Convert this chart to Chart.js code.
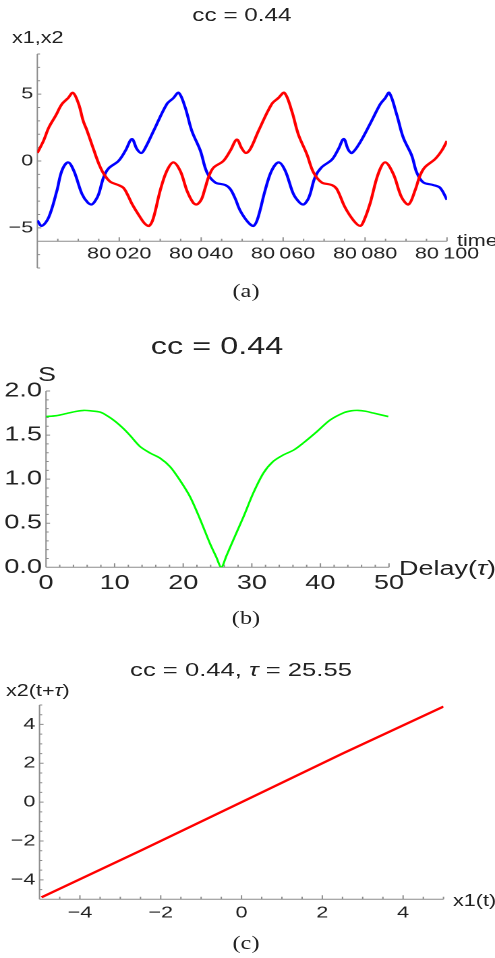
<!DOCTYPE html>
<html>
<head>
<meta charset="utf-8">
<script src="https://cdn.jsdelivr.net/npm/chart.js@4.4.1/dist/chart.umd.min.js"></script>
<style>
  html, body { margin: 0; padding: 0; background: #fff; overflow: hidden; }
  #fig { position: relative; width: 367px; height: 958px; transform-origin: 0 0;
         font-family: "Liberation Sans", Arial, sans-serif; color: #222; }
  #fig canvas { position: absolute; left: 0; }
  .lbl { position: absolute; white-space: nowrap; line-height: 1; transform: translateY(-50%); }
  .mid { transform: translate(-50%, -50%); }
  .cap { font-family: "Liberation Serif", "DejaVu Serif", serif; font-size: 18px; }
</style>
</head>
<body>
<div id="fig">
  <div class="lbl mid" style="left:179.4px;top:15px;font-size:18px">cc = 0.44</div>
  <div class="lbl" style="left:8.9px;top:38px;font-size:16px">x1,x2</div>
  <div class="lbl" style="left:338.8px;top:240.5px;font-size:16px">time</div>
  <canvas id="chartA" width="367" height="300" style="top:0;width:367px;height:300px"></canvas>
  <div class="lbl mid cap" style="left:182.4px;top:291px">(a)</div>

  <div class="lbl mid" style="left:160.9px;top:346px;font-size:24px">cc = 0.44</div>
  <div class="lbl" style="left:28.2px;top:374px;font-size:20px">S</div>
  <div class="lbl" style="left:295.8px;top:568px;font-size:20px">Delay(<i>τ</i>)</div>
  <canvas id="chartB" width="367" height="300" style="top:320px;width:367px;height:300px"></canvas>
  <div class="lbl mid cap" style="left:182.4px;top:618px">(b)</div>

  <div class="lbl mid" style="left:178.7px;top:669px;font-size:19px">cc = 0.44, <i>τ</i> = 25.55</div>
  <div class="lbl" style="left:4.4px;top:691px;font-size:16px">x2(t+<i>τ</i>)</div>
  <div class="lbl" style="left:335.9px;top:901px;font-size:16px">x1(t)</div>
  <canvas id="chartC" width="367" height="328" style="top:630px;width:367px;height:328px"></canvas>
  <div class="lbl mid cap" style="left:182.4px;top:943px">(c)</div>
</div>

<script>
// (a) time series, cc = 0.44
var redTime = [80000, 80001.5, 80002.8, 80004.5, 80006, 80007.5, 80008.7, 80010.1, 80011.2, 80012.1,
  80013.7, 80015, 80016.2, 80017.8, 80019.8, 80021, 80022, 80023.1, 80025.1, 80026.3,
  80027.3, 80028.3, 80030, 80031.6, 80033.2, 80034.9, 80036.5, 80038, 80038.9, 80040,
  80040.8, 80041.8, 80043, 80045.4, 80047.1, 80048.7, 80049.9, 80050.9, 80052, 80054,
  80057.2, 80058.8, 80060.3, 80062.1, 80063.7, 80065.8, 80067.4, 80069.4, 80071.9, 80073.1,
  80075.1, 80077.2, 80078.8, 80079.8, 80081.2, 80083.2, 80084.9, 80086.9, 80088.9, 80090.6,
  80092.2, 80093.4, 80094.6, 80097.1, 80098.7, 80100];
var redX1 = [0.6, 1.5, 2.5, 3.4, 4.25, 4.7, 5.1, 4.25, 3.0, 2.3,
  0.9, -0.2, -0.95, -1.55, -1.8, -2.0, -2.5, -3.2, -4.2, -4.7,
  -4.85, -4.3, -2.2, -0.75, -0.1, -0.75, -2.2, -3.1, -3.25, -2.9,
  -2.2, -1.2, -0.5, 0.0, 0.77, 1.6, 0.95, 0.6, 0.9, 2.26,
  4.25, 4.7, 5.1, 3.75, 2.0, 0.5, -0.85, -1.6, -1.8, -2.1,
  -3.46, -4.45, -4.85, -4.4, -3.2, -0.97, -0.1, -0.97, -2.7, -3.25,
  -2.2, -1.1, -0.47, 0.15, 0.77, 1.5];

var blueTime = [80000, 80001.1, 80002.8, 80004.8, 80006, 80007.5, 80008.9, 80010.9, 80012.3, 80013.3,
  80014.3, 80015, 80016.2, 80017.4, 80019.8, 80021.5, 80023.1, 80024.3, 80025.4, 80026.3,
  80028.4, 80031.6, 80033.2, 80034.5, 80036.1, 80037.7, 80039.8, 80041.4, 80043.4, 80045.9,
  80047.1, 80048.3, 80049.5, 80051.5, 80052.8, 80053.8, 80055.6, 80057.2, 80058.9, 80060.5,
  80062.5, 80064, 80065, 80066, 80066.6, 80067.8, 80069.4, 80071.9, 80073.5, 80074.8,
  80075.9, 80076.8, 80078.8, 80081.6, 80083.7, 80084.9, 80085.9, 80087.7, 80089.3, 80091.4,
  80092.6, 80094.2, 80096.7, 80098.3, 80100];
var blueX2 = [-4.45, -4.85, -4.2, -2.2, -0.72, -0.1, -0.72, -2.46, -3.1, -3.25,
  -2.9, -2.46, -1.2, -0.55, 0.0, 0.77, 1.64, 0.9, 0.6, 0.95,
  2.26, 4.25, 4.7, 5.1, 4.0, 2.26, 0.77, -0.85, -1.6, -1.8,
  -2.1, -2.8, -3.7, -4.6, -4.85, -4.3, -2.2, -0.72, -0.1, -0.72,
  -2.46, -3.1, -3.25, -2.9, -2.46, -1.2, -0.47, 0.1, 0.9, 1.65,
  0.85, 0.6, 1.4, 3.0, 4.25, 4.7, 5.1, 3.5, 1.77, 0.4,
  -0.85, -1.6, -1.8, -2.0, -2.9];

var timeTicks = [80020, 80040, 80060, 80080, 80100];
var xTicksA = [-5, 0, 5];

// (b) similarity function S vs delay
var delay = [0, 1.5, 3, 4.5, 5.5, 6.5, 7.9, 9, 10.1, 11.2, 12.2, 13.7, 15.2, 16.6, 18.1, 19.5,
  21, 22.4, 23.9, 24.8, 25.55, 26.3, 27.3, 28.8, 30.2, 31.7, 33.1, 34.6, 36.1, 37.5,
  39.5, 41.4, 43.3, 44.5, 45.5, 46.6, 47.7, 49.9];
var simS = [1.71, 1.72, 1.745, 1.77, 1.78, 1.775, 1.76, 1.715, 1.655, 1.58, 1.5, 1.37, 1.295, 1.24, 1.14, 0.99,
  0.8, 0.557, 0.27, 0.12, 0.0, 0.13, 0.31, 0.575, 0.84, 1.07, 1.2, 1.275, 1.33, 1.41,
  1.54, 1.67, 1.75, 1.775, 1.78, 1.77, 1.75, 1.71];
var delayTicks = [0, 10, 20, 30, 40, 50];
var sTicks = [0, 0.5, 1, 1.5, 2];

// (c) x2(t+tau) against x1(t), tau = 25.55
var lagX1 = [-4.95, -2.5, 0, 2.5, 5.0];
var lagX2 = [-4.9, -2.5, 0, 2.5, 4.92];
var lagTicks = [-4, -2, 0, 2, 4];

var S = 495 / 367;   // the figure is stretched sideways
document.getElementById('fig').style.transform = 'scaleX(' + S + ')';
function ix(pageX) { return pageX / S; }

function pts(xs, ys) {
  return xs.map(function(x, i) { return {x: x, y: ys[i]}; });
}
function minusSign(v) {
  return v < 0 ? '\u2212' + Math.abs(v) : String(v);
}

// Mathematica-like axes: grey lines with inward major and minor ticks
var mmaAxes = {
  id: 'mmaAxes',
  beforeDatasetsDraw: function(chart, args, o) {
    var ctx = chart.ctx, xs = chart.scales.x, ys = chart.scales.y;
    var y0 = ys.getPixelForValue(o.xAt);
    var x0 = xs.getPixelForValue(o.yAt);
    ctx.save();
    ctx.strokeStyle = '#8c8c8c';
    ctx.lineWidth = 1;
    ctx.beginPath();
    ctx.moveTo(xs.left, y0); ctx.lineTo(xs.right, y0);
    ctx.moveTo(x0, ys.top); ctx.lineTo(x0, ys.bottom);
    var n, i, v, p, len;
    n = Math.round((xs.max - xs.min) / o.x[1]);
    for (i = 0; i <= n; i++) {
      v = xs.min + i * o.x[1];
      len = Math.abs(v / o.x[0] - Math.round(v / o.x[0])) < 1e-6 ? 4 : 2.5;
      p = xs.getPixelForValue(v);
      ctx.moveTo(p, y0); ctx.lineTo(p, y0 - len);
    }
    n = Math.round((ys.max - ys.min) / o.y[1]);
    for (i = 0; i <= n; i++) {
      v = ys.min + i * o.y[1];
      len = Math.abs(v / o.y[0] - Math.round(v / o.y[0])) < 1e-6 ? 3 : 2;
      p = ys.getPixelForValue(v);
      ctx.moveTo(x0, p); ctx.lineTo(x0 + len, p);
    }
    ctx.stroke();
    ctx.restore();
  }
};

function makePanel(id, cfg) {
  return new Chart(document.getElementById(id), {
    type: 'scatter',
    data: {datasets: cfg.datasets},
    options: {
      responsive: false,
      animation: false,
      devicePixelRatio: 2,
      layout: {autoPadding: false, padding: {left: 0, top: cfg.top, right: cfg.right, bottom: cfg.bottom}},
      elements: {point: {radius: 0}},
      plugins: {
        legend: {display: false},
        tooltip: {enabled: false},
        mmaAxes: {xAt: cfg.xAxisAt, yAt: cfg.xMin, x: cfg.xSteps, y: cfg.ySteps}
      },
      scales: {
        x: {
          type: 'linear', min: cfg.xMin, max: cfg.xMax,
          position: {y: cfg.xAxisAt},
          grid: {display: false, drawTicks: false}, border: {display: false},
          ticks: {
            autoSkip: false, maxRotation: 0, padding: cfg.xPad, color: '#222',
            font: {family: 'Liberation Sans', size: cfg.fontSize},
            callback: cfg.xFormat
          },
          afterBuildTicks: function(s) { s.ticks = cfg.xTicks.map(function(v) { return {value: v}; }); }
        },
        y: {
          type: 'linear', min: cfg.yMin, max: cfg.yMax,
          grid: {display: false, drawTicks: false}, border: {display: false},
          ticks: {
            autoSkip: false, padding: 3, color: '#222',
            font: {family: 'Liberation Sans', size: cfg.fontSize},
            callback: cfg.yFormat
          },
          afterBuildTicks: function(s) { s.ticks = cfg.yTicks.map(function(v) { return {value: v}; }); },
          afterFit: function(s) { s.width = cfg.left; }
        }
      }
    },
    plugins: [mmaAxes]
  });
}

makePanel('chartA', {
  datasets: [
    {data: pts(redTime, redX1), showLine: true, borderColor: '#ff0000', borderWidth: 2.2, tension: 0.35},
    {data: pts(blueTime, blueX2), showLine: true, borderColor: '#0000ff', borderWidth: 2.2, tension: 0.35}
  ],
  xMin: 80000, xMax: 80100, yMin: -8, yMax: 8, xAxisAt: -6,
  xTicks: timeTicks, yTicks: xTicksA, xSteps: [20, 5], ySteps: [5, 1],
  left: ix(37.3), right: 367 - ix(447), top: 54, bottom: 32,
  fontSize: 16, xPad: 3,
  xFormat: function(v) { var s = String(v); return s.slice(0, 2) + '\u2009' + s.slice(2); },
  yFormat: minusSign
});

makePanel('chartB', {
  datasets: [
    {data: pts(delay, simS), showLine: true, borderColor: '#00ff00', borderWidth: 1.6, tension: 0.3}
  ],
  xMin: 0, xMax: 50, yMin: 0, yMax: 2, xAxisAt: 0,
  xTicks: delayTicks, yTicks: sTicks, xSteps: [10, 2], ySteps: [0.5, 0.1],
  left: ix(46), right: 367 - ix(389), top: 71, bottom: 52.7,
  fontSize: 20, xPad: 4,
  xFormat: function(v) { return String(v); },
  yFormat: function(v) { return v.toFixed(1); }
});

makePanel('chartC', {
  datasets: [
    {data: pts(lagX1, lagX2), showLine: true, borderColor: '#ff0000', borderWidth: 2.2, tension: 0}
  ],
  xMin: -5, xMax: 5, yMin: -5, yMax: 5, xAxisAt: -5,
  xTicks: lagTicks, yTicks: lagTicks, xSteps: [2, 0.5], ySteps: [2, 0.5],
  left: ix(39.5), right: 367 - ix(443.5), top: 75, bottom: 58.7,
  fontSize: 16, xPad: 4,
  xFormat: minusSign,
  yFormat: minusSign
});
</script>
</body>
</html>
